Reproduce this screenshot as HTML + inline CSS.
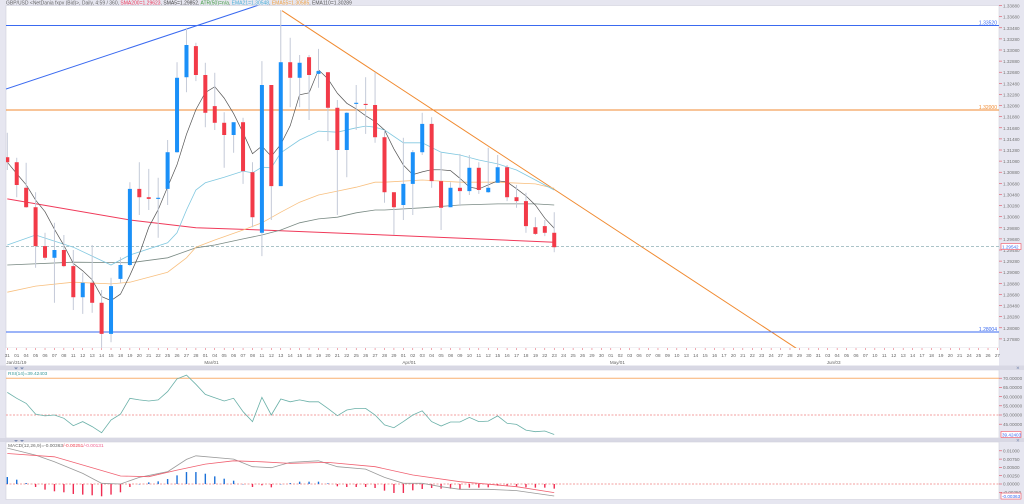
<!DOCTYPE html>
<html><head><meta charset="utf-8">
<style>
html,body{margin:0;padding:0;background:#e6e6f0;}
svg{display:block;font-family:"Liberation Sans",sans-serif;}
</style></head>
<body>
<svg id="chart" width="1024" height="504" viewBox="0 0 1024 504" xmlns="http://www.w3.org/2000/svg">
<rect x="0" y="0" width="1024" height="504" fill="#e6e6f0"/>
<text x="6" y="4.6" font-size="5" fill="#666">GBP/USD &lt;NetDania fxpv (Bid)&gt;, Daily, 4:59 / 360, <tspan fill="#f03a5a">SMA200=1.29623</tspan>, <tspan fill="#444">SMA5=1.29852</tspan>, <tspan fill="#3a9a3a">ATR(50)=n/a</tspan>, <tspan fill="#4ab0d8">EMA21=1.30548</tspan>, <tspan fill="#f0a040">EMA55=1.30585</tspan>, <tspan fill="#555">EMA110=1.30289</tspan></text>
<rect x="6" y="5.5" width="993" height="342.5" fill="#fff" stroke="#d0d0dc" stroke-width="0.6"/>
<rect x="6" y="348" width="993" height="17.5" fill="#fff"/>
<rect x="0" y="365.5" width="1024" height="4.5" fill="#d8d8e4"/>
<rect x="6" y="370" width="993" height="68" fill="#fff" stroke="#d0d0dc" stroke-width="0.6"/>
<rect x="0" y="438" width="1024" height="4" fill="#d8d8e4"/>
<rect x="6" y="442" width="993" height="57.5" fill="#fff" stroke="#d0d0dc" stroke-width="0.6"/>
<path d="M14,367.5 l2,2 l2,-2 z M20,367.5 l2,2 l2,-2z" fill="#7a8ab0"/>
<path d="M14,440 l2,2 l2,-2 z M20,440 l2,2 l2,-2z" fill="#7a8ab0"/>
<text x="1016" y="369.5" font-size="4.5" fill="#7a8ab0">✕</text>
<text x="1016" y="442" font-size="4.5" fill="#7a8ab0">✕</text>
<g id="layer"></g>
</svg>
<script>
// ---- price data ----
const opens  = [1.3115,1.3106,1.3060,1.3025,1.2955,1.2934,1.2948,1.2919,1.2863,1.2889,1.2853,1.2797,1.2896,1.2921,1.3058,1.3043,1.3040,1.3058,1.3124,1.3259,1.3315,1.3263,1.3207,1.3177,1.3155,1.3178,1.3088,1.2979,1.3245,1.3063,1.3286,1.3258,1.3295,1.3265,1.3268,1.3204,1.3128,1.3211,1.3211,1.3209,1.3151,1.3052,1.3029,1.3067,1.3124,1.3175,1.3072,1.3025,1.3060,1.3054,1.3096,1.3052,1.3069,1.3097,1.3043,1.3036,1.2989,1.2991,1.2979];
const highs  = [1.3159,1.3114,1.3105,1.3052,1.2979,1.2997,1.2975,1.2948,1.2907,1.2957,1.2876,1.2898,1.2935,1.3070,1.3106,1.3094,1.3078,1.3146,1.3286,1.3348,1.3321,1.3285,1.3267,1.3196,1.3178,1.3186,1.3106,1.3288,1.3245,1.3380,1.3330,1.3299,1.3299,1.3310,1.3268,1.3218,1.3196,1.3245,1.3259,1.3268,1.3164,1.3052,1.3150,1.3128,1.3195,1.3187,1.3123,1.3070,1.3121,1.3119,1.3106,1.3132,1.3119,1.3101,1.3065,1.3051,1.3007,1.3002,1.3016];
const lows   = [1.3092,1.3043,1.3024,1.2916,1.2930,1.2853,1.2917,1.2840,1.2833,1.2835,1.2772,1.2782,1.2889,1.2919,1.3011,1.3020,1.2970,1.3029,1.3123,1.3232,1.3252,1.3169,1.3164,1.3096,1.3123,1.3067,1.2989,1.2937,1.3002,1.3063,1.3205,1.3205,1.3182,1.3240,1.3144,1.3011,1.3079,1.3164,1.3157,1.3141,1.3033,1.2975,1.3002,1.3011,1.3119,1.3060,1.2984,1.3025,1.3027,1.3047,1.3049,1.3051,1.3069,1.3036,1.3024,1.2979,1.2975,1.2973,1.2944];
const closes = [1.3106,1.3065,1.3025,1.2955,1.2934,1.2948,1.2919,1.2863,1.2889,1.2853,1.2797,1.2883,1.2921,1.3058,1.3043,1.3040,1.3042,1.3124,1.3258,1.3317,1.3263,1.3195,1.3177,1.3155,1.3178,1.3090,1.3007,1.3245,1.3063,1.3286,1.3258,1.3285,1.3263,1.3270,1.3204,1.3128,1.3195,1.3213,1.3209,1.3151,1.3052,1.3025,1.3067,1.3124,1.3175,1.3072,1.3024,1.3060,1.3054,1.3096,1.3056,1.3060,1.3097,1.3043,1.3036,1.2991,1.2977,1.2979,1.2953];
// moving averages (sampled at candle indices)
const ema21Idx = [0,3,7,11,13,17,18,19,20,21,23,25,26,27,28,29,31,33,35,37,38,39,40,42,44,46,48,50,52,54,56,58];
const ema21Val = [1.2957,1.2975,1.2953,1.2921,1.2939,1.2961,1.2979,1.3020,1.3056,1.3069,1.3079,1.3090,1.3087,1.3097,1.3096,1.3123,1.3146,1.3162,1.3160,1.3168,1.3171,1.3169,1.3164,1.3141,1.3141,1.3124,1.3119,1.3110,1.3103,1.3092,1.3074,1.3056];
const ema55Idx = [0,3,7,11,13,17,19,20,22,25,27,29,31,33,35,37,39,40,44,48,52,56,58];
const ema55Val = [1.2872,1.2883,1.2890,1.2887,1.2890,1.2908,1.2934,1.2953,1.2966,1.2984,1.2997,1.3016,1.3034,1.3047,1.3054,1.3061,1.3070,1.3070,1.3074,1.3070,1.3070,1.3067,1.3059];
const ema110Idx = [0,7,13,17,20,22,25,27,29,31,33,35,37,39,40,44,48,52,56,58];
const ema110Val = [1.2921,1.2926,1.2925,1.2934,1.2952,1.2957,1.2968,1.2975,1.2984,1.2997,1.3004,1.3007,1.3015,1.3020,1.3020,1.3024,1.3029,1.3031,1.3031,1.3029];
const sma200Idx = [0,13,20,27,40,58];
const sma200Val = [1.3040,1.3002,1.2988,1.2984,1.2975,1.2962];
// horizontal levels
const levelPrices = [1.33520,1.32000,1.28004];
const levelLabels = ["1.33520","1.32000","1.28004"];
const lastPrice = 1.29542;
// price axis ticks
const priceTicks = [1.3388,1.3368,1.3348,1.3328,1.3308,1.3288,1.3268,1.3248,1.3228,1.3208,1.3188,1.3168,1.3148,1.3128,1.3108,1.3088,1.3068,1.3048,1.3028,1.3008,1.2988,1.2968,1.2948,1.2928,1.2908,1.2888,1.2868,1.2848,1.2828,1.2808,1.2788];
// RSI
const rsiVal = [62.3,59.1,56.3,50.5,49.5,50,48.2,44.2,46.4,43.7,40.4,47.3,50.5,59.1,58.2,57.6,58.2,62.7,69.6,71.7,66.7,61.2,59.4,57.6,59.1,51.8,46.4,59.6,50,58.7,57.2,58.2,57.2,57.2,53.6,49.6,52.7,53.6,53.6,50,44.6,43.1,46.4,50,52.3,46.4,44,46.2,46.2,48.7,46.4,46.7,49.5,45.5,44.9,41.8,40.9,41.3,39.4];
const rsiTicks = [70,65,60,55,50,45];
// MACD
const macdHist = [0.0021,0.0013,0.0003,-0.0009,-0.0017,-0.0022,-0.0025,-0.0030,-0.0032,-0.0034,-0.0037,-0.0032,-0.0025,-0.0009,0.0000,0.0005,0.0008,0.0015,0.0026,0.0036,0.0036,0.0031,0.0023,0.0016,0.0010,0.0000,-0.0009,-0.0004,-0.0010,0.0000,0.0003,0.0007,0.0007,0.0007,0.0002,-0.0007,-0.0009,-0.0009,-0.0009,-0.0012,-0.0020,-0.0027,-0.0027,-0.0019,-0.0015,-0.0012,-0.0014,-0.0014,-0.0017,-0.0011,-0.0011,-0.0010,-0.0005,-0.0005,-0.0007,-0.0010,-0.0011,-0.0011,-0.0014];
const macdIdx = [0,3,5,8,10,12,14,17,19,20,24,26,28,30,33,35,38,40,42,44,46,48,51,54,58];
const macdVal = [0.0108,0.0087,0.0067,0.0032,0.0002,0.0000,0.0020,0.0037,0.0074,0.0085,0.0075,0.0052,0.0049,0.0065,0.0070,0.0052,0.0045,0.0020,0.0002,0.0002,-0.0008,-0.0016,-0.0016,-0.0020,-0.0036];
const signalIdx = [0,5,12,15,18,21,24,27,30,34,39,43,48,54,58];
const signalVal = [0.0092,0.0082,0.0024,0.0022,0.0042,0.0060,0.0070,0.0067,0.0062,0.0065,0.0052,0.0027,0.0007,-0.0008,-0.0026];
const macdTicks = [0.0100,0.0075,0.0050,0.0025,0,-0.0025];
// dates
const dateLabels = ["31","01","04","05","06","07","08","11","12","13","14","15","18","19","20","21","22","25","26","27","28","01","04","05","06","07","08","11","12","13","14","15","18","19","20","21","22","25","26","27","28","29","01","02","03","04","05","08","09","10","11","12","15","16","17","18","19","22","23","24","25","26","29","30","01","02","03","06","07","08","09","10","13","14","15","16","17","20","21","22","23","24","27","28","29","30","31","03","04","05","06","07","10","11","12","13","14","17","18","19","20","21","24","25","26","27"];
const monthIdx = [0,21,42,64,87];
const monthLabels = ["Jan/31/19","Mar/01","Apr/01","May/01","Jun/03"];

// ---- axis functions ----
const X = i => 7.3 + i*9.43;
const Y = p => (1.3398 - p)*5555.6;
const RY = r => 415 - (r-50)*1.84;
const MY = v => 484 - v*3320;

const NS="http://www.w3.org/2000/svg";
const layer=document.getElementById('layer');
function mk(tag, attrs, parent){const e=document.createElementNS(NS,tag);for(const k in attrs)e.setAttribute(k,attrs[k]);(parent||layer).appendChild(e);return e;}
function poly(idx, vals, fy){return idx.map((i,k)=>X(i).toFixed(1)+','+fy(vals[k]).toFixed(1)).join(' ');}

// clip
const defs=mk('defs',{});
const cp=mk('clipPath',{id:'pc'},defs); mk('rect',{x:6,y:5.5,width:993,height:342.5},cp);
const main=mk('g',{'clip-path':'url(#pc)'});



// trend lines (drawing annotations)
let t=mk('line',{x1:6,y1:89,x2:262,y2:4,stroke:'#3a6af0','stroke-width':1},main);


t=mk('line',{x1:282,y1:10.7,x2:805,y2:354,stroke:'#f08a30','stroke-width':1},main);



// horizontal levels
const levelColors=['#3a6af0','#f08a30','#3a6af0'];
levelPrices.forEach((p,k)=>{
  const l=mk('line',{x1:6,x2:999,y1:Y(p),y2:Y(p),stroke:levelColors[k],'stroke-width':1},main);
  
  
  const tx=mk('text',{x:997,y:Y(p)-1,'font-size':5,'text-anchor':'end',fill:levelColors[k]});
  tx.textContent=levelLabels[k];
  
  
});
let dl=mk('line',{x1:6,x2:999,y1:Y(lastPrice),y2:Y(lastPrice),stroke:'#7aa0a8','stroke-width':0.6,'stroke-dasharray':'3,2'},main);



// moving averages
function maLine(idx,vals,color,w,name){const e=mk('polyline',{points:poly(idx,vals,Y),fill:'none',stroke:color,'stroke-width':w},main);

}
maLine(sma200Idx,sma200Val,'#f03a5a',1,'sma200-line');
maLine(ema110Idx,ema110Val,'#7a8a84',0.8,'ema110-line');
maLine(ema55Idx,ema55Val,'#f8c080',0.8,'ema55-line');
maLine(ema21Idx,ema21Val,'#80c8e0',0.8,'ema21-line');
const sma5=closes.map((c,i)=>{const s=closes.slice(Math.max(0,i-4),i+1);return s.reduce((a,b)=>a+b,0)/s.length;});
maLine(closes.map((c,i)=>i),sma5,'#555',0.7,'sma5-line');

// candles
closes.forEach((c,i)=>{
  const o=opens[i],up=c>=o,x=X(i);
  const w=mk('line',{x1:x,x2:x,y1:Y(highs[i]),y2:Y(lows[i]),stroke:'#c4cad8','stroke-width':1},main);
  
  
  const top=Y(Math.max(o,c)),h=Math.max(1,Math.abs(Y(o)-Y(c)));
  const b=mk('rect',{x:x-2,y:top,width:4,height:h,fill:up?'#1a90f8':'#f23a48'},main);
  
  
});

// price axis
priceTicks.forEach(p=>{
  const y=Y(p);
  const tk=mk('line',{x1:999,x2:1002,y1:y,y2:y,stroke:'#e05060','stroke-width':0.6});
  
  
  const tx=mk('text',{x:1003,y:y+2,'font-size':4.6,fill:'#777'});
  tx.textContent=p.toFixed(5);
  
  
});
let lb=mk('rect',{x:1001,y:Y(lastPrice)-3,width:20,height:6,fill:'#fff',stroke:'#f05060','stroke-width':0.6});


let lt=mk('text',{x:1002,y:Y(lastPrice)+1.8,'font-size':4.6,fill:'#3a6af0'});
lt.textContent=lastPrice.toFixed(5);



// date axis
dateLabels.forEach((d,i)=>{
  const x=X(i);
  const tk=mk('line',{x1:x,x2:x,y1:348,y2:350,stroke:'#e05060','stroke-width':0.5});
  
  
  const tx=mk('text',{x:x,y:357,'font-size':4.6,fill:'#666','text-anchor':'middle'});
  tx.textContent=d;
  
  
});
monthIdx.forEach((i,k)=>{
  const tx=mk('text',{x:X(i)-1,y:364,'font-size':4.6,fill:'#666'});
  tx.textContent=monthLabels[k];
  
  
});

// RSI panel
let r70=mk('line',{x1:6,x2:999,y1:RY(70),y2:RY(70),stroke:'#f8b070','stroke-width':1});


let r50=mk('line',{x1:6,x2:999,y1:RY(50),y2:RY(50),stroke:'#f08080','stroke-width':0.7,'stroke-dasharray':'2,1.5'});


let rl=mk('polyline',{points:poly(rsiVal.map((v,i)=>i),rsiVal,RY),fill:'none',stroke:'#6ab0a8','stroke-width':0.8});


let rt=mk('text',{x:8,y:375,'font-size':4.8,fill:'#3a9a9a'});
rt.textContent='RSI(14)=39.42403';


rsiTicks.forEach(v=>{
  const y=RY(v);
  const tk=mk('line',{x1:999,x2:1002,y1:y,y2:y,stroke:'#e05060','stroke-width':0.6});
  
  
  const tx=mk('text',{x:1003,y:y+1.7,'font-size':4.6,fill:'#777'});
  tx.textContent=v.toFixed(5);
  
  
});
let rb=mk('rect',{x:1001,y:RY(39.424)-3,width:20,height:6,fill:'#fff',stroke:'#f05060','stroke-width':0.6});


let rbt=mk('text',{x:1002,y:RY(39.424)+1.8,'font-size':4.6,fill:'#3a6af0'});
rbt.textContent='39.42403';



// MACD panel
let mz=mk('line',{x1:6,x2:999,y1:MY(0),y2:MY(0),stroke:'#f08080','stroke-width':0.7,'stroke-dasharray':'2,1.5'});


macdHist.forEach((v,i)=>{
  const y0=MY(0),y1=MY(v);
  const b=mk('rect',{x:X(i)-0.7,y:Math.min(y0,y1),width:1.4,height:Math.max(0.4,Math.abs(y1-y0)),fill:v>=0?'#1a70d8':'#f02a50'});
  
  
});
let ml=mk('polyline',{points:poly(macdIdx,macdVal,MY),fill:'none',stroke:'#9a9a9a','stroke-width':0.8});


let sl=mk('polyline',{points:poly(signalIdx,signalVal,MY),fill:'none',stroke:'#f06070','stroke-width':0.8});


let mt=mk('text',{x:8,y:447,'font-size':4.8,fill:'#666'});
mt.innerHTML='MACD(12,26,9)=-0.00363<tspan fill="#f04050">/-0.00251</tspan><tspan fill="#f06090">/-0.00131</tspan>';


macdTicks.forEach(v=>{
  const y=MY(v);
  const tk=mk('line',{x1:999,x2:1002,y1:y,y2:y,stroke:'#e05060','stroke-width':0.6});
  
  
  const tx=mk('text',{x:1003,y:y+1.7,'font-size':4.6,fill:'#777'});
  tx.textContent=v.toFixed(5);
  
  
});
let mb=mk('rect',{x:1001,y:MY(-0.00363)-3,width:20,height:6,fill:'#fff',stroke:'#f05060','stroke-width':0.6});


let mbt=mk('text',{x:1002,y:MY(-0.00363)+1.8,'font-size':4.6,fill:'#3a6af0'});
mbt.textContent='-0.00363';


</script>
</body></html>
